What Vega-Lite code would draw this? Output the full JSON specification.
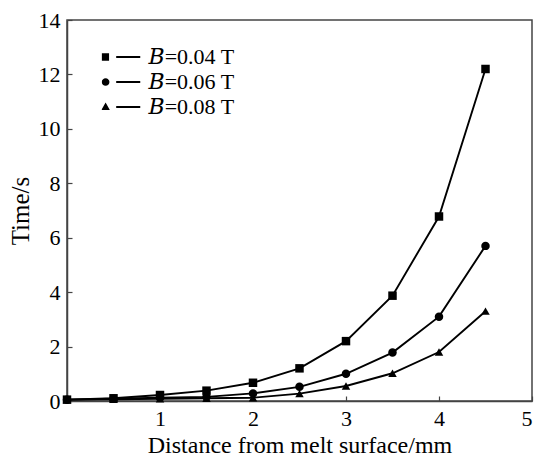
{
  "$schema": "https://vega.github.io/schema/vega-lite/v6.json",
  "width": 465,
  "height": 381,
  "autosize": {"type": "none"},
  "padding": {"left": 67, "top": 20, "right": 5, "bottom": 56},
  "background": "white",
  "config": {
    "view": {"stroke": "#444", "strokeWidth": 1.5},
    "font": "Liberation Serif",
    "axis": {
      "labelFont": "Liberation Serif",
      "titleFont": "Liberation Serif",
      "labelColor": "black",
      "titleColor": "black",
      "labelFontSize": 22,
      "titleFontSize": 24,
      "titleFontWeight": "normal",
      "domainColor": "#444",
      "domainWidth": 1.5,
      "tickColor": "#444",
      "tickWidth": 1.2,
      "tickSize": -5,
      "grid": false
    }
  },
  "data": {
    "values": [
      {"d": 0, "t": 0.05, "series": "B=0.04 T"},
      {"d": 0.5, "t": 0.1, "series": "B=0.04 T"},
      {"d": 1, "t": 0.22, "series": "B=0.04 T"},
      {"d": 1.5, "t": 0.38, "series": "B=0.04 T"},
      {"d": 2, "t": 0.67, "series": "B=0.04 T"},
      {"d": 2.5, "t": 1.2, "series": "B=0.04 T"},
      {"d": 3, "t": 2.2, "series": "B=0.04 T"},
      {"d": 3.5, "t": 3.87, "series": "B=0.04 T"},
      {"d": 4, "t": 6.78, "series": "B=0.04 T"},
      {"d": 4.5, "t": 12.2, "series": "B=0.04 T"},
      {"d": 0, "t": 0.05, "series": "B=0.06 T"},
      {"d": 0.5, "t": 0.08, "series": "B=0.06 T"},
      {"d": 1, "t": 0.12, "series": "B=0.06 T"},
      {"d": 1.5, "t": 0.15, "series": "B=0.06 T"},
      {"d": 2, "t": 0.28, "series": "B=0.06 T"},
      {"d": 2.5, "t": 0.52, "series": "B=0.06 T"},
      {"d": 3, "t": 1.0, "series": "B=0.06 T"},
      {"d": 3.5, "t": 1.78, "series": "B=0.06 T"},
      {"d": 4, "t": 3.1, "series": "B=0.06 T"},
      {"d": 4.5, "t": 5.7, "series": "B=0.06 T"},
      {"d": 0, "t": 0.05, "series": "B=0.08 T"},
      {"d": 0.5, "t": 0.06, "series": "B=0.08 T"},
      {"d": 1, "t": 0.08, "series": "B=0.08 T"},
      {"d": 1.5, "t": 0.1, "series": "B=0.08 T"},
      {"d": 2, "t": 0.12, "series": "B=0.08 T"},
      {"d": 2.5, "t": 0.27, "series": "B=0.08 T"},
      {"d": 3, "t": 0.55, "series": "B=0.08 T"},
      {"d": 3.5, "t": 1.02, "series": "B=0.08 T"},
      {"d": 4, "t": 1.8, "series": "B=0.08 T"},
      {"d": 4.5, "t": 3.3, "series": "B=0.08 T"}
    ]
  },
  "encoding": {
    "x": {
      "field": "d", "type": "quantitative",
      "scale": {"domain": [0, 5], "nice": false, "zero": false},
      "axis": {"values": [0, 1, 2, 3, 4, 5], "title": "Distance from melt surface/mm", "labelFont": "Liberation Serif", "labelPadding": 12, "titlePadding": 4, "labelExpr": "datum.value == 0 ? '' : datum.label"}
    },
    "y": {
      "field": "t", "type": "quantitative",
      "scale": {"domain": [0, 14], "nice": false},
      "axis": {"values": [0, 2, 4, 6, 8, 10, 12, 14], "title": "Time/s", "labelFont": "Liberation Serif", "labelPadding": 12, "titlePadding": 5, "titleFontSize": 25}
    }
  },
  "resolve": {"scale": {"shape": "independent"}},
  "layer": [
    {
      "mark": {"type": "line", "color": "black", "strokeWidth": 1.9},
      "encoding": {"detail": {"field": "series", "type": "nominal"}}
    },
    {
      "mark": {"type": "point", "filled": true, "color": "black", "opacity": 1, "size": 72},
      "encoding": {
        "shape": {
          "field": "series", "type": "nominal",
          "scale": {"domain": ["B=0.04 T", "B=0.06 T", "B=0.08 T"], "range": ["square", "circle", "triangle-up"]},
          "legend": null
        }
      }
    },
    {
      "mark": {"type": "point", "filled": true, "color": "black", "opacity": 0, "size": 1482},
      "encoding": {
        "shape": {
          "field": "series", "type": "nominal",
          "scale": {"domain": ["B=0.04 T", "B=0.06 T", "B=0.08 T"], "range": ["M-1,-0.19H-0.62V0.19H-1Z M-0.25,-0.05H1V0.05H-0.25Z", "M-1,0A0.2,0.2 0 1,0 -0.6,0A0.2,0.2 0 1,0 -1,0Z M-0.25,-0.05H1V0.05H-0.25Z", "M-0.8,-0.23L-0.58,0.15L-1.02,0.15Z M-0.25,-0.05H1V0.05H-0.25Z"]},
          "legend": {
            "title": null,
            "orient": "none",
            "legendX": 34.5,
            "legendY": 24.5,
            "padding": 0,
            "rowPadding": 0,
            "clipHeight": 25,
            "labelOffset": 8,
            "labelFont": "Liberation Serif, DejaVu Serif, Noto Serif, serif",
            "labelFontSize": 22,
            "labelColor": "black",
            "symbolSize": 1482,
            "symbolOpacity": 1,
            "symbolFillColor": "black",
            "symbolStrokeColor": "black",
            "symbolStrokeWidth": 0.5,
            "labelExpr": "'𝐵' + slice(datum.label, 1)"
          }
        }
      }
    }
  ]
}
